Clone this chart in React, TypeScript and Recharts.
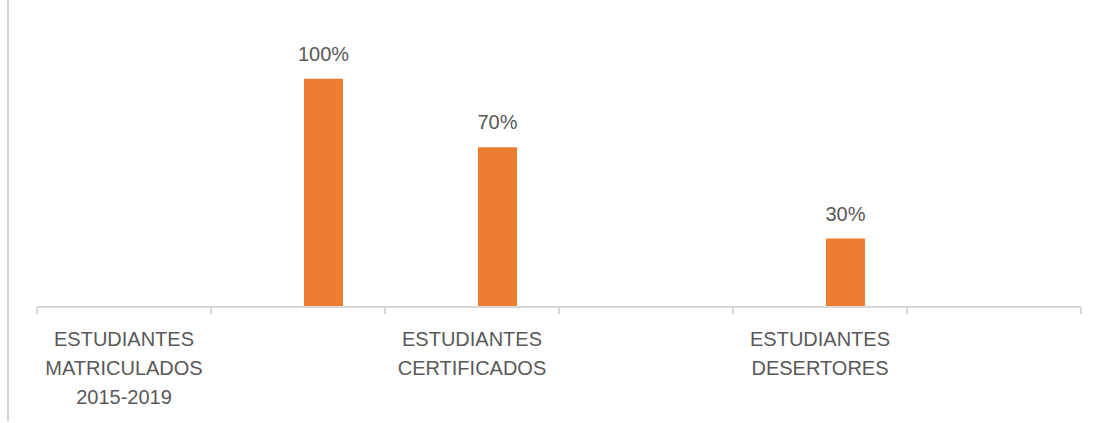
import { BarChart, Bar, XAxis, YAxis, LabelList } from "recharts";

const categories = [
  "ESTUDIANTES MATRICULADOS 2015-2019",
  "",
  "ESTUDIANTES CERTIFICADOS",
  "",
  "ESTUDIANTES DESERTORES",
  "",
];
const emptySeries: (number | null)[] = [null, null, null, null, null, null];
const shareSeries: (number | null)[] = [null, 1, 0.7, null, 0.3, null];

const data = categories.map((name, i) => ({
  name,
  empty: emptySeries[i],
  share: shareSeries[i],
}));

const W = 1100;
const H = 423;
const LEFT = 37;
const RIGHT = 19;
const BAND = (W - LEFT - RIGHT) / categories.length;
const TEXT = "#595959";
const AXIS = "#D9D9D9";
const FONT = "'Liberation Sans', Arial, sans-serif";

function CategoryTick(props: any) {
  const { x, y, payload, index, visibleTicksCount } = props;
  const lines = String(payload.value || "").split(" ").filter(Boolean);
  const last = index === visibleTicksCount - 1;
  return (
    <g>
      <line x1={x - BAND / 2} x2={x - BAND / 2} y1={y} y2={y + 7} stroke={AXIS} strokeWidth={2} />
      {last && (
        <line x1={x + BAND / 2} x2={x + BAND / 2} y1={y} y2={y + 7} stroke={AXIS} strokeWidth={2} />
      )}
      <text x={x} y={y} textAnchor="middle" fill={TEXT} fontSize={20} fontFamily={FONT}>
        {lines.map((l, i) => (
          <tspan key={i} x={x} y={y + 39 + i * 29}>
            {l}
          </tspan>
        ))}
      </text>
    </g>
  );
}

export default function App() {
  return (
    <div style={{ position: "absolute", left: 0, top: 0, width: W, height: H, background: "#fff" }}>
      <div
        style={{
          position: "absolute",
          left: 7,
          top: 0,
          width: 0,
          height: H - 2,
          borderLeft: "2px solid #D4D4D4",
        }}
      />
      <BarChart
        width={W}
        height={H}
        data={data}
        margin={{ top: 33, right: RIGHT, bottom: 0, left: LEFT }}
        barSize={39}
        barGap={12}
      >
        <XAxis
          dataKey="name"
          interval={0}
          tickLine={false}
          tickSize={0}
          tickMargin={0}
          height={116}
          axisLine={{ stroke: AXIS, strokeWidth: 2 }}
          tick={<CategoryTick />}
        />
        <YAxis hide domain={[0, 1.2]} />
        <Bar dataKey="empty" fill="#4472C4" isAnimationActive={false} />
        <Bar dataKey="share" fill="#ED7D31" isAnimationActive={false}>
          <LabelList
            dataKey="share"
            position="top"
            offset={18}
            fill={TEXT}
            fontSize={20}
            fontFamily={FONT}
            formatter={(v: any) => (v == null ? "" : `${Math.round(v * 100)}%`)}
          />
        </Bar>
      </BarChart>
    </div>
  );
}
